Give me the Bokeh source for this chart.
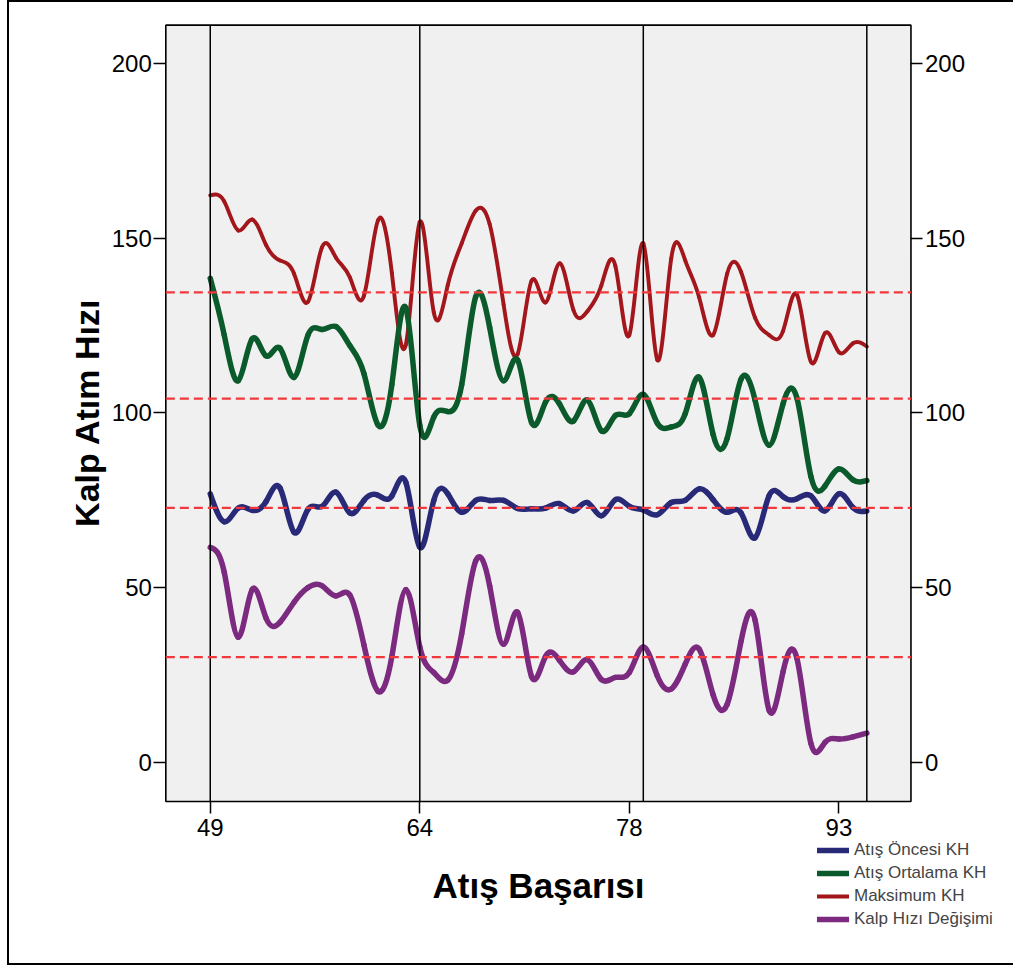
import numpy as np
from bokeh.plotting import figure
from bokeh.models import (FixedTicker, LinearAxis, Legend, LegendItem, Label,
                          BoxAnnotation, Range1d, ColumnDataSource)
from bokeh.embed import file_html
from bokeh.resources import INLINE

# ---------------- data ----------------
positions = list(range(48))                 # category positions along "Atış Başarısı"
x_tick_positions = [0, 15, 30, 45]
x_tick_labels = ["49", "64", "78", "93"]
ref_x = [0, 15, 31, 47]                      # vertical reference lines
y_ticks = [0, 50, 100, 150, 200]
mean_lines = [134.5, 104.1, 72.9, 30.2]      # dashed horizontal reference lines

series_names = ["Atış Öncesi KH", "Atış Ortalama KH", "Maksimum KH", "Kalp Hızı Değişimi"]

oncesi = [76.9, 68.9, 72.8, 72.2, 74.7, 78.5, 65.9, 72.5, 73.3, 77.4, 71.4, 75.0,
          76.5, 76.3, 80.2, 61.6, 75.0, 76.9, 71.6, 75.0, 75.0, 75.0, 72.7, 72.6,
          72.8, 74.1, 72.0, 74.4, 70.6, 75.2, 73.3, 72.3, 70.9, 74.4, 75.0, 78.3,
          75.2, 71.6, 71.4, 64.3, 76.3, 76.1, 75.5, 76.3, 72.0, 76.9, 73.0, 72.0]

ortalama = [138.5, 122.3, 109.2, 121.2, 116.3, 118.5, 110.2, 122.3, 123.9, 124.7, 119.2, 111.3,
            96.6, 108.1, 130.0, 96.5, 98.8, 100.4, 108.1, 133.2, 124.5, 109.2, 115.2, 97.3,
            103.1, 102.6, 97.7, 103.7, 94.9, 99.3, 99.8, 105.3, 97.1, 96.0, 99.8, 110.2,
            93.8, 92.7, 109.7, 103.7, 90.8, 102.6, 104.2, 81.8, 79.1, 84.0, 80.9, 80.7]

maksimum = [162.2, 160.5, 152.2, 155.3, 148.0, 143.6, 139.8, 131.8, 147.4, 144.4, 138.7, 133.5,
            155.0, 140.0, 119.5, 154.6, 128.8, 136.5, 148.5, 157.8, 154.0, 131.0, 116.8, 137.8,
            131.6, 142.8, 129.4, 129.1, 136.5, 142.0, 122.3, 148.5, 115.2, 144.2, 143.6, 133.0,
            122.3, 139.8, 140.3, 127.2, 122.3, 123.4, 133.8, 114.6, 122.8, 117.4, 119.9, 119.0]

degisim = [61.6, 54.5, 35.9, 49.5, 41.3, 40.2, 45.9, 50.1, 50.6, 47.7, 47.9, 33.7,
           20.5, 30.4, 49.5, 33.1, 25.8, 23.6, 36.9, 57.7, 50.6, 33.9, 43.0, 24.7,
           30.4, 29.3, 26.0, 29.5, 23.8, 24.4, 25.8, 33.1, 24.9, 21.1, 28.2, 32.5,
           19.4, 16.7, 34.8, 40.8, 15.1, 26.0, 29.8, 5.5, 5.8, 6.8, 7.4, 8.5]

colors = ["#282a78", "#0a5a2c", "#a3161b", "#7b2a80"]
widths = [5.5, 5.5, 3.9, 5.5]

# plotting-area limits (grey box) and full canvas extent, in data units
X_LO, X_HI = -3.18, 50.16
Y_LO, Y_HI = -11.06, 210.87
CANVAS_X = (-14.37, 57.50)
CANVAS_Y = (-57.38, 217.35)


def spline_segments(x, y):
    """Natural cubic spline through the points, expressed as Bezier segments."""
    x = np.asarray(x, float)
    y = np.asarray(y, float)
    n = len(y)
    h = np.diff(x)
    A = np.zeros((n, n))
    rhs = np.zeros(n)
    A[0, 0] = A[-1, -1] = 1.0
    for i in range(1, n - 1):
        A[i, i - 1] = h[i - 1]
        A[i, i] = 2 * (h[i - 1] + h[i])
        A[i, i + 1] = h[i]
        rhs[i] = 6 * ((y[i + 1] - y[i]) / h[i] - (y[i] - y[i - 1]) / h[i - 1])
    M = np.linalg.solve(A, rhs)
    s = (y[1:] - y[:-1]) / h
    d0 = s - h * (2 * M[:-1] + M[1:]) / 6
    d1 = s + h * (M[:-1] + 2 * M[1:]) / 6
    return ColumnDataSource(dict(
        x0=x[:-1], y0=y[:-1], x1=x[1:], y1=y[1:],
        cx0=x[:-1] + h / 3, cy0=y[:-1] + d0 * h / 3,
        cx1=x[1:] - h / 3, cy1=y[1:] - d1 * h / 3))


FONT = "Liberation Sans"

# canvas placed at x=9, y=2 with an outline drawn around it (outer frame of the picture)
p = figure(width=1004, height=961, output_backend="svg", toolbar_location=None,
           x_range=Range1d(*CANVAS_X), y_range=Range1d(*CANVAS_Y), min_border=0)
p.styles = {"margin-left": "9px", "margin-top": "2px", "outline": "2px solid black"}
p.background_fill_color = "white"
p.border_fill_color = "white"
p.outline_line_color = None
p.grid.visible = False

# grey plotting area with black border
p.add_layout(BoxAnnotation(left=X_LO, right=X_HI, bottom=Y_LO, top=Y_HI,
                           fill_color="#f0f0f0", fill_alpha=1.0,
                           line_color="black", line_alpha=1.0, line_width=1.6,
                           level="underlay"))

# axes, fixed to the edges of the grey area
p.xaxis.fixed_location = Y_LO
p.xaxis.ticker = FixedTicker(ticks=x_tick_positions)
p.xaxis.major_label_overrides = {k: v for k, v in zip(x_tick_positions, x_tick_labels)}
p.yaxis.fixed_location = X_LO
p.yaxis.ticker = FixedTicker(ticks=y_ticks)

right_axis = LinearAxis(ticker=FixedTicker(ticks=y_ticks), fixed_location=X_HI)
p.add_layout(right_axis, "right")

for ax in [p.xaxis[0], p.yaxis[0], right_axis]:
    ax.axis_line_color = None
    ax.major_tick_line_color = "black"
    ax.major_tick_line_width = 1.5
    ax.major_tick_out = 12
    ax.major_tick_in = 0
    ax.minor_tick_line_color = None
    ax.major_label_text_font = FONT
    ax.major_label_text_font_size = "24px"
    ax.major_label_text_color = "black"

p.yaxis[0].major_label_standoff = 2
right_axis.major_label_standoff = 2
p.xaxis[0].major_label_standoff = 6

# axis titles
p.add_layout(Label(x=-8.85, y=100.1, text="Kalp Atım Hızı", angle=90, angle_units="deg",
                   text_align="center", text_baseline="alphabetic", text_font=FONT,
                   text_font_size="34px", text_font_style="bold", text_color="black"))
p.add_layout(Label(x=23.5, y=-35.1, text="Atış Başarısı",
                   text_align="center", text_baseline="alphabetic", text_font=FONT,
                   text_font_size="35px", text_font_style="bold", text_color="black"))

# series (drawn as smooth spline curves)
order = [2, 0, 1, 3]
data_list = [oncesi, ortalama, maksimum, degisim]
rmap = {}
for k in order:
    src = spline_segments(positions, data_list[k])
    r = p.bezier(x0="x0", y0="y0", x1="x1", y1="y1", cx0="cx0", cy0="cy0",
                 cx1="cx1", cy1="cy1", source=src, line_color=colors[k],
                 line_width=widths[k], line_cap="round", line_join="round")
    rmap[k] = r

# reference lines
n_ref = len(ref_x)
p.segment(x0=ref_x, y0=[Y_LO] * n_ref, x1=ref_x, y1=[Y_HI] * n_ref,
          line_color="black", line_width=1.5)
n_mean = len(mean_lines)
p.segment(x0=[X_LO] * n_mean, y0=mean_lines, x1=[X_HI] * n_mean, y1=mean_lines,
          line_color="#f0383d", line_width=2.3, line_dash="9 5")

# legend (below the grey area, at the lower right)
legend = Legend(items=[LegendItem(label=series_names[k], renderers=[rmap[k]]) for k in range(4)],
                location=(808, 34), orientation="vertical",
                label_text_font=FONT, label_text_font_size="17px",
                glyph_width=32, glyph_height=20, label_height=20, spacing=3,
                padding=0, margin=0, label_standoff=5,
                border_line_color=None, background_fill_alpha=0)
p.add_layout(legend, "center")

open("out.html", "w").write(file_html(p, INLINE))
